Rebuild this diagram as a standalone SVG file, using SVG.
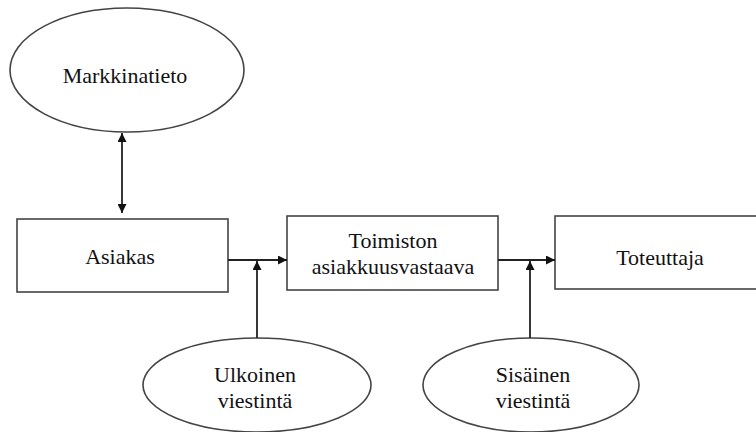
<svg xmlns="http://www.w3.org/2000/svg" width="756" height="432" viewBox="0 0 756 432">
<defs>
<marker id="ah" viewBox="0 0 10 10" refX="10" refY="5" markerWidth="9" markerHeight="9" markerUnits="userSpaceOnUse" orient="auto-start-reverse">
<path d="M0,0 L10,5 L0,10 z" fill="#111"/>
</marker>
<style>
.shape{fill:#fff;stroke:#444;stroke-width:1.6}
.t{font-size:22px;fill:#111;text-anchor:middle}
.c{fill:none;stroke:#222;stroke-width:1.8}
</style>
</defs>
<rect width="756" height="432" fill="#fff"/>
<g font-family="'Liberation Serif', 'DejaVu Serif', serif">
<g id="markkinatieto">
<ellipse class="shape" cx="127" cy="70" rx="117" ry="62"/>
<text class="t" x="125" y="83">Markkinatieto</text>
</g>
<g id="asiakas">
<rect class="shape" x="17" y="219" width="211" height="73"/>
<text class="t" x="120" y="264">Asiakas</text>
</g>
<g id="toimiston">
<rect class="shape" x="287" y="216" width="211" height="74"/>
<text class="t" x="393" y="248">Toimiston</text>
<text class="t" x="393" y="274">asiakkuusvastaava</text>
</g>
<g id="toteuttaja">
<rect class="shape" x="555" y="216" width="220" height="73"/>
<text class="t" x="660" y="265">Toteuttaja</text>
</g>
<g id="ulkoinen">
<ellipse class="shape" cx="257" cy="385" rx="114" ry="47"/>
<text class="t" x="255" y="382">Ulkoinen</text>
<text class="t" x="255" y="408">viestintä</text>
</g>
<g id="sisainen">
<ellipse class="shape" cx="531" cy="385" rx="108" ry="47"/>
<text class="t" x="533" y="382">Sisäinen</text>
<text class="t" x="533" y="408">viestintä</text>
</g>
</g>
<g id="connectors">
<line class="c" x1="122" y1="133" x2="122" y2="213" marker-start="url(#ah)" marker-end="url(#ah)"/>
<line class="c" x1="228" y1="260" x2="287" y2="260" marker-end="url(#ah)"/>
<line class="c" x1="257" y1="338" x2="257" y2="261" marker-end="url(#ah)"/>
<line class="c" x1="498" y1="260" x2="555" y2="260" marker-end="url(#ah)"/>
<line class="c" x1="530" y1="338" x2="530" y2="261" marker-end="url(#ah)"/>
</g>
</svg>
